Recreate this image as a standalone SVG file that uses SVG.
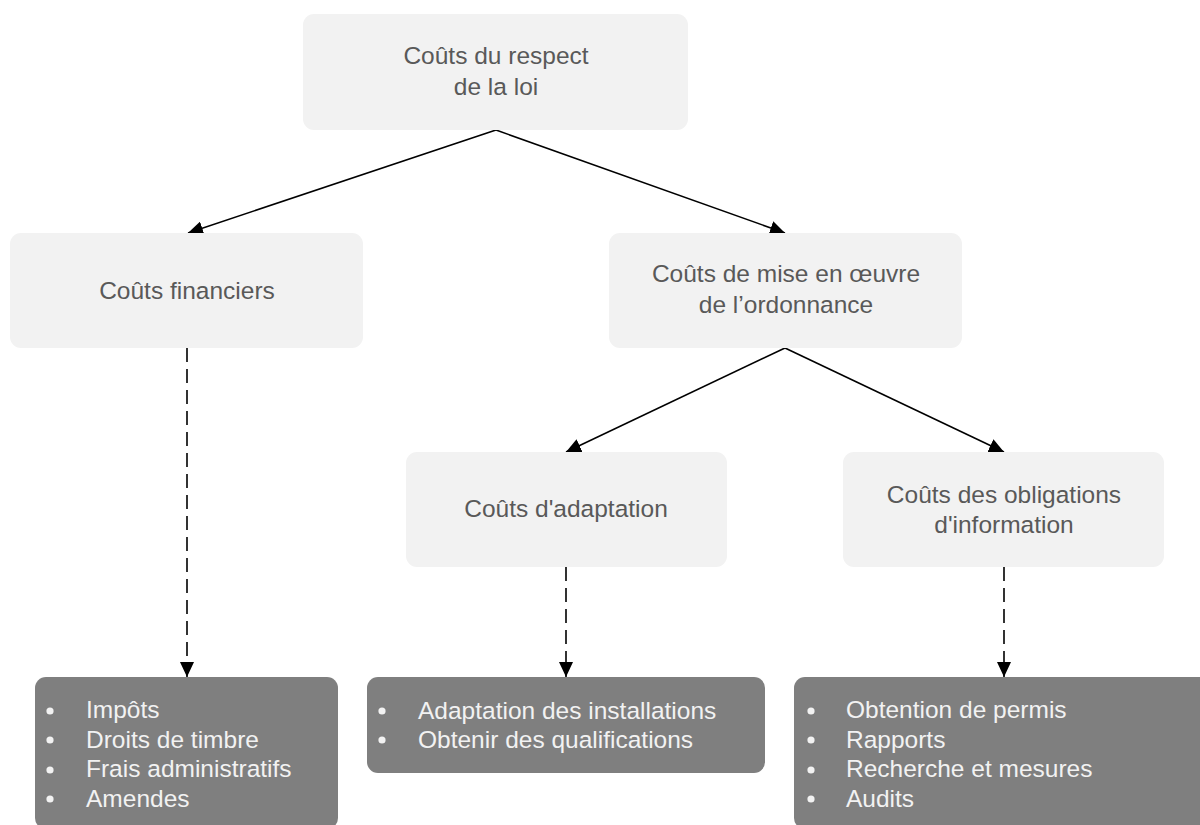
<svg xmlns="http://www.w3.org/2000/svg" width="1200" height="825" viewBox="0 0 1200 825">
  <style>
    .box { fill: #f2f2f2; }
    .dark { fill: #7f7f7f; }
    .lbl { font-family: "Liberation Sans", Arial, sans-serif; font-size: 24.5px; fill: #595959; text-anchor: middle; }
    .item { font-family: "Liberation Sans", Arial, sans-serif; font-size: 24.5px; fill: #f2f2f2; }
    .dot { fill: #f2f2f2; }
    .solid { stroke: #000; stroke-width: 1.6; fill: none; marker-end: url(#head); }
    .dash { stroke: #000; stroke-width: 1.6; fill: none; stroke-dasharray: 14 7; marker-end: url(#head); }
  </style>
  <defs>
    <marker id="head" viewBox="0 0 15 14" refX="15" refY="7" markerWidth="15" markerHeight="14" markerUnits="userSpaceOnUse" orient="auto">
      <path d="M0,0 L15,7 L0,14 z" fill="#000"/>
    </marker>
  </defs>
  <rect width="1200" height="825" fill="#fff"/>

  <g id="connectors">
    <line class="solid" x1="496" y1="130" x2="188" y2="233"/>
    <line class="solid" x1="496" y1="130" x2="785" y2="233"/>
    <line class="solid" x1="785" y1="348" x2="566" y2="452"/>
    <line class="solid" x1="785" y1="348" x2="1004" y2="452"/>
    <line class="dash" x1="187" y1="348" x2="187" y2="677"/>
    <line class="dash" x1="566" y1="567" x2="566" y2="677"/>
    <line class="dash" x1="1004" y1="567" x2="1004" y2="677"/>
  </g>

  <g id="respect-loi">
    <rect class="box" x="303" y="14" width="385" height="116" rx="11"/>
    <text class="lbl" x="496" y="64">Coûts du respect</text>
    <text class="lbl" x="496" y="95">de la loi</text>
  </g>

  <g id="financiers">
    <rect class="box" x="10" y="233" width="353" height="115" rx="11"/>
    <text class="lbl" x="187" y="299">Coûts financiers</text>
  </g>

  <g id="mise-en-oeuvre">
    <rect class="box" x="609" y="233" width="353" height="115" rx="11"/>
    <text class="lbl" x="786" y="282">Coûts de mise en œuvre</text>
    <text class="lbl" x="786" y="313">de l’ordonnance</text>
  </g>

  <g id="adaptation">
    <rect class="box" x="406" y="452" width="321" height="115" rx="11"/>
    <text class="lbl" x="566" y="517">Coûts d'adaptation</text>
  </g>

  <g id="obligations">
    <rect class="box" x="843" y="452" width="321" height="115" rx="11"/>
    <text class="lbl" x="1004" y="503">Coûts des obligations</text>
    <text class="lbl" x="1004" y="533">d'information</text>
  </g>

  <g id="liste-financiers">
    <rect class="dark" x="35" y="677" width="303" height="152" rx="11"/>
    <circle class="dot" cx="50" cy="711" r="3.6"/>
    <circle class="dot" cx="50" cy="740" r="3.6"/>
    <circle class="dot" cx="50" cy="770" r="3.6"/>
    <circle class="dot" cx="50" cy="799" r="3.6"/>
    <text class="item" x="86" y="718">Impôts</text>
    <text class="item" x="86" y="748">Droits de timbre</text>
    <text class="item" x="86" y="777">Frais administratifs</text>
    <text class="item" x="86" y="807">Amendes</text>
  </g>

  <g id="liste-adaptation">
    <rect class="dark" x="367" y="677" width="398" height="96" rx="11"/>
    <circle class="dot" cx="382" cy="711" r="3.6"/>
    <circle class="dot" cx="382" cy="740" r="3.6"/>
    <text class="item" x="418" y="719">Adaptation des installations</text>
    <text class="item" x="418" y="748">Obtenir des qualifications</text>
  </g>

  <g id="liste-information">
    <rect class="dark" x="794" y="677" width="420" height="152" rx="11"/>
    <circle class="dot" cx="811" cy="711" r="3.6"/>
    <circle class="dot" cx="811" cy="740" r="3.6"/>
    <circle class="dot" cx="811" cy="770" r="3.6"/>
    <circle class="dot" cx="811" cy="799" r="3.6"/>
    <text class="item" x="846" y="718">Obtention de permis</text>
    <text class="item" x="846" y="748">Rapports</text>
    <text class="item" x="846" y="777">Recherche et mesures</text>
    <text class="item" x="846" y="807">Audits</text>
  </g>
</svg>
